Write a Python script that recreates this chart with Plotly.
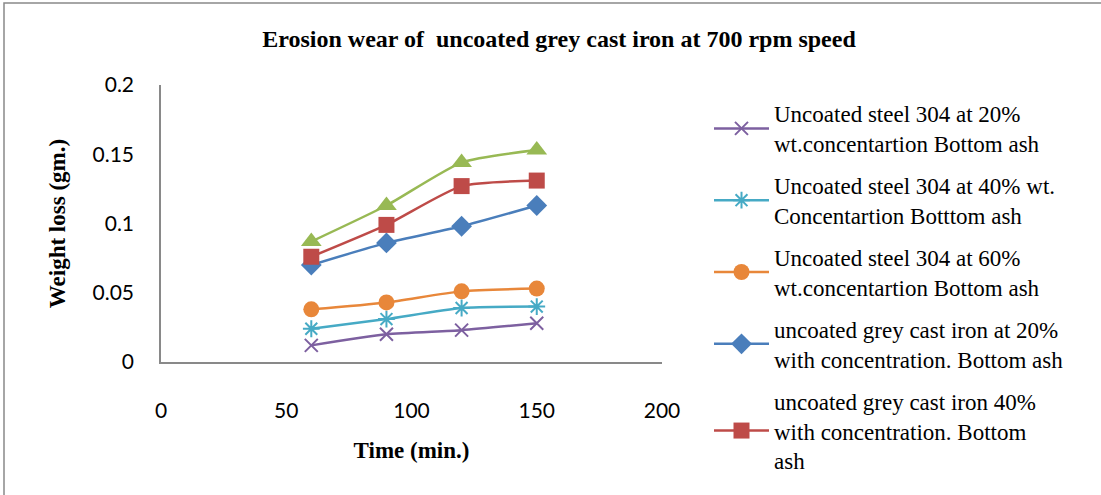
import plotly.graph_objects as go

time_min = [60, 90, 120, 150]
steel_20 = [0.012, 0.020, 0.023, 0.028]
steel_40 = [0.024, 0.031, 0.039, 0.040]
steel_60 = [0.038, 0.043, 0.051, 0.053]
iron_20 = [0.070, 0.086, 0.098, 0.113]
iron_40 = [0.076, 0.099, 0.127, 0.131]
iron_60 = [0.087, 0.113, 0.144, 0.153]

names = [
    "Uncoated steel 304 at 20%<br>wt.concentartion Bottom ash",
    "Uncoated steel 304 at 40% wt.<br>Concentartion Botttom ash",
    "Uncoated steel 304 at 60%<br>wt.concentartion Bottom ash",
    "uncoated grey cast iron at 20%<br>with concentration. Bottom ash",
    "uncoated grey cast iron 40%<br>with concentration. Bottom<br>ash",
    "uncoated grey cast iron 60%<br>with concentration. Bottom ash",
]
series = [steel_20, steel_40, steel_60, iron_20, iron_40, iron_60]
colors = ["#7D60A0", "#46AAC5", "#E8873A", "#4A7EBB", "#BE4B48", "#98B954"]
symbols = ["x-thin", "asterisk", "circle", "diamond", "square", "triangle-up"]
sizes = [13, 14, 16, 16, 16, 18]

fig = go.Figure()
for i, (nm, ys, c, s, sz) in enumerate(zip(names, series, colors, symbols, sizes)):
    line_sym = s in ("x-thin", "asterisk")
    fig.add_trace(go.Scatter(
        x=time_min, y=ys, name=nm, mode="lines+markers",
        line=dict(color=c, width=2.5, shape="spline", smoothing=0.6),
        marker=dict(symbol=s, size=sz, color=c,
                    line=dict(color=c, width=2 if line_sym else 0)),
        legendgroup=str(i),
        showlegend=(i < 5),
    ))

W, H = 1101, 495
L, R, T, B = 161, 662, 85, 362  # plot area in pixels
PW, PH = R - L, B - T

fig.update_layout(
    width=W, height=H,
    margin=dict(l=L, r=W - R, t=T, b=H - B, autoexpand=False),
    paper_bgcolor="white", plot_bgcolor="white",
    title=dict(text="<b>Erosion wear of  uncoated grey cast iron at 700 rpm speed</b>",
               x=559/W, xanchor="center", y=1-39/H, yanchor="middle",
               font=dict(family="Liberation Serif", size=24, color="black")),
    showlegend=True,
    legend=dict(xref="container", yref="container",
                x=709/W, y=1-92/H, xanchor="left", yanchor="top",
                font=dict(family="Liberation Serif", size=23, color="black"),
                tracegroupgap=9, itemwidth=55, bgcolor="rgba(0,0,0,0)",
                maxheight=450),
    xaxis=dict(range=[0, 200], dtick=50, showgrid=False, zeroline=False,
               showline=True, linecolor="#898989", linewidth=1.5, ticks="",
               ticklabelstandoff=29,
               tickfont=dict(family="Lato", size=21, color="black"),
               title=dict(text="<b>Time (min.)</b>", standoff=21,
                          font=dict(family="Liberation Serif", size=23, color="black"))),
    yaxis=dict(range=[0, 0.2], dtick=0.05, showgrid=False, zeroline=False,
               showline=True, linecolor="#898989", linewidth=1.5, ticks="",
               ticklabelstandoff=21,
               tickfont=dict(family="Lato", size=21, color="black"),
               title=dict(text="<b>Weight loss (gm.)</b>", standoff=20,
                          font=dict(family="Liberation Serif", size=23, color="black"))),
    shapes=[dict(type="rect", xref="paper", yref="paper",
                 x0=(4-L)/PW, x1=(1110-L)/PW,
                 y0=(B-500)/PH, y1=(B-3)/PH,
                 line=dict(color="#898989", width=1.5), fillcolor="rgba(0,0,0,0)",
                 layer="below")],
)

fig.write_html("out.html", config={"displayModeBar": False},
               post_script="document.body.style.margin='0px';")
